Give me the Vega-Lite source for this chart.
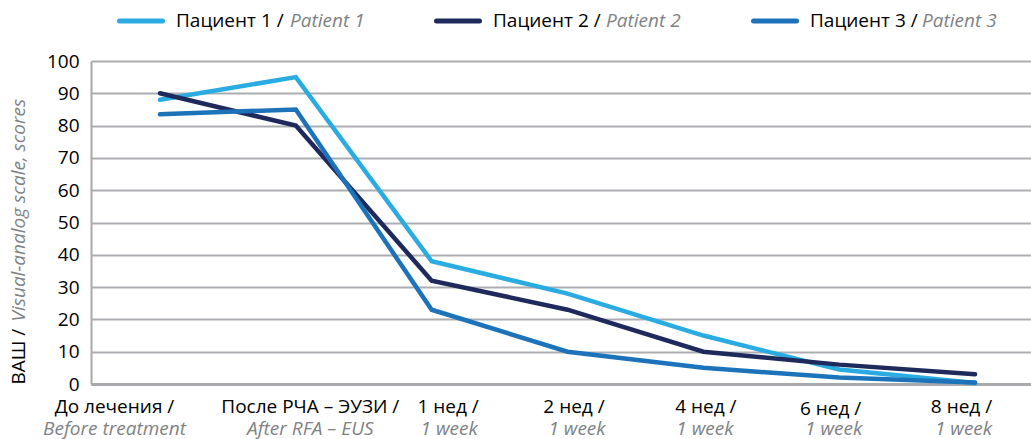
{
  "$schema": "https://vega.github.io/schema/vega-lite/v6.json",
  "width": 940,
  "height": 323,
  "autosize": "none",
  "padding": {"left": 91, "top": 61, "right": 0, "bottom": 55},
  "config": {"font": "Open Sans", "view": {"stroke": null}},
  "data": {"values": [
    {"t": "До лечения /", "patient": "Пациент 1 /", "patient_en": "Patient 1", "value": 88},
    {"t": "После РЧА – ЭУЗИ /", "patient": "Пациент 1 /", "patient_en": "Patient 1", "value": 95},
    {"t": "1 нед /", "patient": "Пациент 1 /", "patient_en": "Patient 1", "value": 38},
    {"t": "2 нед /", "patient": "Пациент 1 /", "patient_en": "Patient 1", "value": 28},
    {"t": "4 нед /", "patient": "Пациент 1 /", "patient_en": "Patient 1", "value": 15},
    {"t": "6 нед /", "patient": "Пациент 1 /", "patient_en": "Patient 1", "value": 4.5},
    {"t": "8 нед /", "patient": "Пациент 1 /", "patient_en": "Patient 1", "value": 0.3},
    {"t": "До лечения /", "patient": "Пациент 2 /", "patient_en": "Patient 2", "value": 90},
    {"t": "После РЧА – ЭУЗИ /", "patient": "Пациент 2 /", "patient_en": "Patient 2", "value": 80},
    {"t": "1 нед /", "patient": "Пациент 2 /", "patient_en": "Patient 2", "value": 32},
    {"t": "2 нед /", "patient": "Пациент 2 /", "patient_en": "Patient 2", "value": 23},
    {"t": "4 нед /", "patient": "Пациент 2 /", "patient_en": "Patient 2", "value": 10},
    {"t": "6 нед /", "patient": "Пациент 2 /", "patient_en": "Patient 2", "value": 6},
    {"t": "8 нед /", "patient": "Пациент 2 /", "patient_en": "Patient 2", "value": 3},
    {"t": "До лечения /", "patient": "Пациент 3 /", "patient_en": "Patient 3", "value": 83.5},
    {"t": "После РЧА – ЭУЗИ /", "patient": "Пациент 3 /", "patient_en": "Patient 3", "value": 85},
    {"t": "1 нед /", "patient": "Пациент 3 /", "patient_en": "Patient 3", "value": 23},
    {"t": "2 нед /", "patient": "Пациент 3 /", "patient_en": "Patient 3", "value": 10},
    {"t": "4 нед /", "patient": "Пациент 3 /", "patient_en": "Patient 3", "value": 5},
    {"t": "6 нед /", "patient": "Пациент 3 /", "patient_en": "Patient 3", "value": 2},
    {"t": "8 нед /", "patient": "Пациент 3 /", "patient_en": "Patient 3", "value": 0.5}
  ]},
  "resolve": {"scale": {"x": "independent", "y": "independent"}},
  "layer": [
    {
      "mark": {"type": "line", "strokeWidth": 4.5, "strokeCap": "round"},
      "encoding": {
        "x": {
          "field": "t", "type": "nominal",
          "sort": ["До лечения /", "После РЧА – ЭУЗИ /", "1 нед /", "2 нед /", "4 нед /", "6 нед /", "8 нед /"],
          "scale": {"type": "point", "padding": 0.46, "align": 0.552},
          "axis": {"orient": "bottom", "title": null, "labelAngle": 0, "labelFontSize": 19, "labelColor": "#000000", "ticks": false, "domain": true, "domainColor": "#A7A9AC", "domainWidth": 3, "grid": false, "labelBaseline": "top",
            "labelOffset": {"condition": [
              {"test": "datum.value == 'До лечения /'", "value": -46},
              {"test": "datum.value == 'После РЧА – ЭУЗИ /'", "value": 14},
              {"test": "datum.value == '1 нед /'", "value": 16},
              {"test": "datum.value == '2 нед /'", "value": 6},
              {"test": "datum.value == '4 нед /'", "value": 2},
              {"test": "datum.value == '6 нед /'", "value": -9}
            ], "value": -14},
            "labelPadding": {"condition": {"test": "datum.value == '6 нед /'", "value": 15}, "value": 13}}
        },
        "y": {
          "field": "value", "type": "quantitative",
          "scale": {"domain": [0, 100], "nice": false, "zero": true},
          "axis": {"orient": "left", "values": [0, 10, 20, 30, 40, 50, 60, 70, 80, 90, 100], "labelFontSize": 19, "labelColor": "#000000", "labelPadding": 12, "ticks": false, "domain": true, "domainColor": "#A7A9AC", "domainWidth": 2, "grid": true, "gridColor": "#ABADB0", "gridWidth": 2,
            "title": "ВАШ /", "titleFontSize": 19, "titleFontWeight": "normal", "titleColor": "#000000", "titleAngle": -90, "titleX": -73, "titleY": 323, "titleAlign": "left", "titleBaseline": "middle"}
        },
        "color": {
          "field": "patient", "type": "nominal",
          "scale": {"domain": ["Пациент 1 /", "Пациент 2 /", "Пациент 3 /"], "range": ["#2AACE2", "#1F2A5C", "#1C73B9"]},
          "legend": {"orient": "none", "legendX": 26, "legendY": -64, "direction": "horizontal", "title": null, "symbolType": "stroke", "symbolSize": 1849, "symbolStrokeWidth": 5, "labelOffset": 11, "labelFontSize": 19, "labelColor": "#000000", "columnPadding": 142, "gridAlign": "all",
            "encode": {"symbols": {"update": {"strokeCap": {"value": "round"}}}}}
        }
      }
    },
    {
      "mark": {"type": "line", "opacity": 0},
      "encoding": {
        "x": {
          "field": "t", "type": "nominal",
          "sort": ["До лечения /", "После РЧА – ЭУЗИ /", "1 нед /", "2 нед /", "4 нед /", "6 нед /", "8 нед /"],
          "scale": {"type": "point", "padding": 0.46, "align": 0.552},
          "axis": {"orient": "bottom", "title": null, "labelAngle": 0, "labelFontSize": 19, "labelFontStyle": "italic", "labelColor": "#808285", "ticks": false, "domain": false, "grid": false, "labelBaseline": "top",
            "labelExpr": "datum.value == 'До лечения /' ? 'Before treatment' : datum.value == 'После РЧА – ЭУЗИ /' ? 'After RFA – EUS' : '1 week'",
            "labelOffset": {"condition": [
              {"test": "datum.value == 'До лечения /'", "value": -46},
              {"test": "datum.value == 'После РЧА – ЭУЗИ /'", "value": 14},
              {"test": "datum.value == '1 нед /'", "value": 17},
              {"test": "datum.value == '2 нед /'", "value": 9},
              {"test": "datum.value == '4 нед /'", "value": 1},
              {"test": "datum.value == '6 нед /'", "value": -6}
            ], "value": -12},
            "labelPadding": 35}
        },
        "y": {
          "field": "value", "type": "quantitative",
          "scale": {"domain": [0, 100], "nice": false},
          "axis": {"orient": "left", "labels": false, "ticks": false, "domain": false, "grid": false,
            "title": "Visual-analog scale, scores", "titleFontSize": 19, "titleFontWeight": "normal", "titleFontStyle": "italic", "titleColor": "#808285", "titleAngle": -90, "titleX": -73, "titleY": 260, "titleAlign": "left", "titleBaseline": "middle"}
        },
        "strokeDash": {
          "field": "patient_en", "type": "nominal",
          "scale": {"domain": ["Patient 1", "Patient 2", "Patient 3"], "range": [[1, 0], [1, 0], [1, 0]]},
          "legend": {"orient": "none", "legendX": 26, "legendY": -64, "direction": "horizontal", "title": null, "symbolType": "stroke", "symbolSize": 1849, "symbolOpacity": 0, "symbolStrokeWidth": 5, "labelOffset": 125, "labelFontSize": 19, "labelFontStyle": "italic", "labelColor": "#808285", "columnPadding": 68, "gridAlign": "all"}
        }
      }
    }
  ]
}
